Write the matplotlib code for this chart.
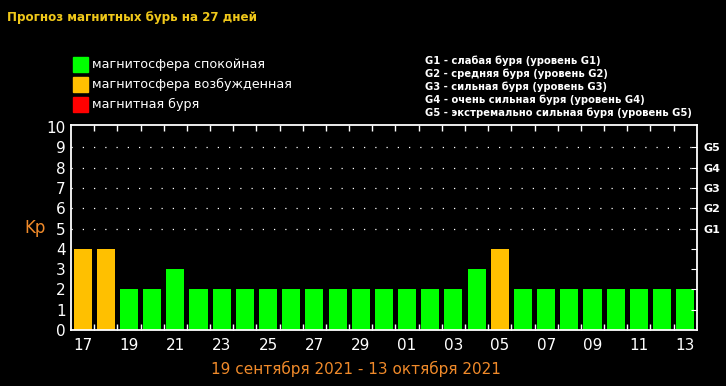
import numpy as np
import matplotlib.pyplot as plt

plt.rcParams['font.family'] = ['DejaVu Sans']

days = ['17', '18', '19', '20', '21', '22', '23', '24', '25', '26', '27', '28', '29', '30',
        '01', '02', '03', '04', '05', '06', '07', '08', '09', '10', '11', '12', '13']
kp = [4, 4, 2, 2, 3, 2, 2, 2, 2, 2, 2, 2, 2, 2, 2, 2, 2, 3, 4, 2, 2, 2, 2, 2, 2, 2, 2]

legend_labels = ['магнитосфера спокойная', 'магнитосфера возбужденная', 'магнитная буря']
legend_colors = ['#00ff00', '#ffc000', '#ff0000']
g_levels = ['G1', 'G2', 'G3', 'G4', 'G5']
g_desc = ['слабая буря', 'средняя буря', 'сильная буря', 'очень сильная буря',
          'экстремально сильная буря']


def kp_color(v):
    if v >= 5:
        return legend_colors[2]
    if v >= 4:
        return legend_colors[1]
    return legend_colors[0]


fig = plt.figure(figsize=(7.26, 3.86), dpi=100, facecolor='black')
ax = fig.add_axes([0.0978, 0.145, 0.862, 0.531], facecolor='black')

x = np.arange(len(days))
ax.bar(x, kp, width=0.78, color=[kp_color(v) for v in kp])

ax.set_xlim(-0.5, len(days) - 0.5)
ax.set_ylim(0, 10.1)

for lvl in range(5, 10):
    ax.axhline(lvl, color='white', lw=0.9, ls=(0, (1, 8)))

for s in ax.spines.values():
    s.set_color('white')
    s.set_linewidth(1.3)

ax.set_yticks(range(0, 11))
ax.tick_params(axis='y', colors='white', labelsize=11, length=0, pad=4)
ax.set_xticks(x[::2])
ax.set_xticklabels(days[::2])
ax.tick_params(axis='x', colors='white', labelsize=11, length=0, pad=6)

# small ticks at bar boundaries
ax.set_xticks(np.arange(0.5, len(days) - 1, 1), minor=True)
ax.tick_params(axis='x', which='minor', direction='in', length=4, color='white',
               top=True, bottom=True, width=1)

# right side G-scale
ax2 = ax.twinx()
ax2.set_ylim(ax.get_ylim())
ax2.set_yticks(range(1, 10))
ax2.set_yticklabels(['', '', '', ''] + g_levels)
ax2.tick_params(axis='y', direction='in', length=4, color='white', colors='white',
                labelsize=8, pad=5)
for lab in ax2.get_yticklabels():
    lab.set_fontweight('bold')
for s in ax2.spines.values():
    s.set_visible(False)

fig.text(0.048, 0.41, 'Kp', color='#f08a2a', fontsize=12, ha='center', va='center')

fig.text(0.01, 0.955, 'Прогноз магнитных бурь на 27 дней', color='#f0c81a',
         fontsize=8.6, fontweight='bold', ha='left', va='center')

for i, (lab, col) in enumerate(zip(legend_labels, legend_colors)):
    y = 0.833 - i * 0.052
    fig.patches.append(plt.Rectangle((0.1, y - 0.019), 0.021, 0.039, color=col,
                                     transform=fig.transFigure, figure=fig))
    fig.text(0.127, y, lab, color='white', fontsize=9.2, ha='left', va='center')

for i, (g, d) in enumerate(zip(g_levels, g_desc)):
    fig.text(0.585, 0.842 - i * 0.0335, f'{g} - {d} (уровень {g})', color='white',
             fontsize=7.2, fontweight='bold', ha='left', va='center')

fig.text(0.49, 0.044, '19 сентября 2021 - 13 октября 2021', color='#f08a2a',
         fontsize=11, ha='center', va='center')

fig.savefig('out.png', dpi=100, facecolor='black')
